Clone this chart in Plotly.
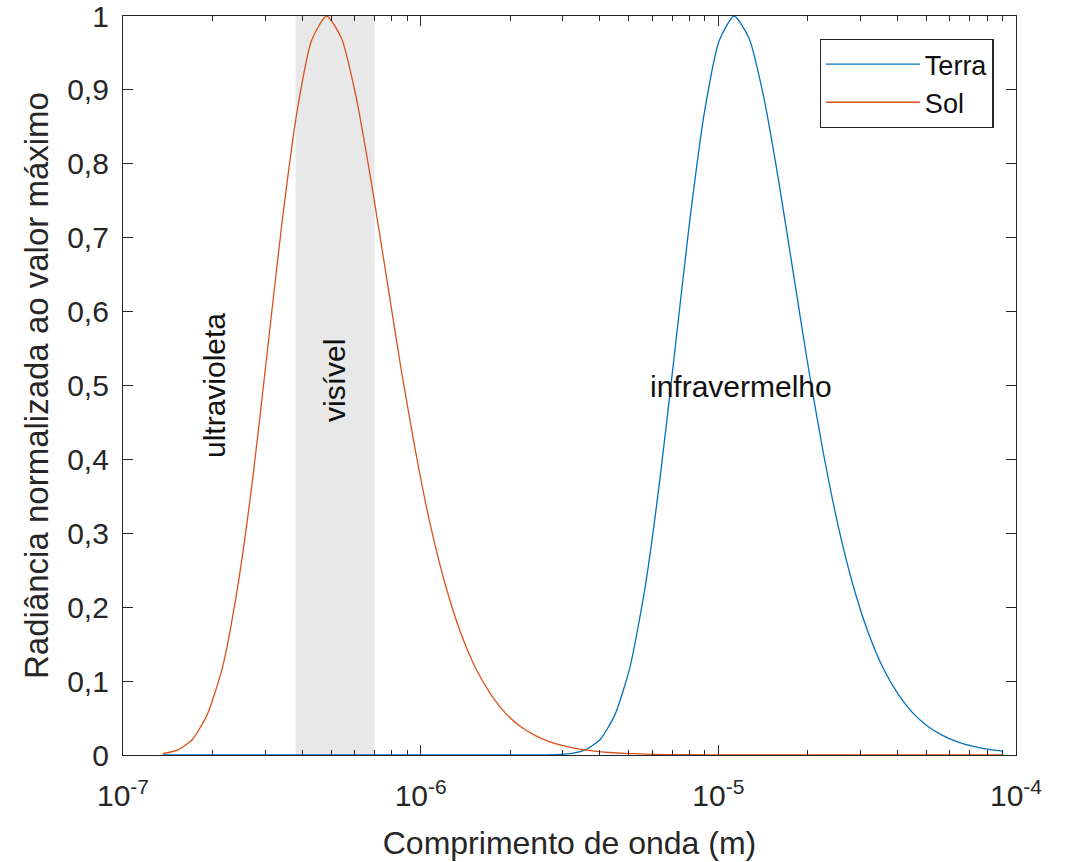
import math
import plotly.graph_objects as go

# ---------------- data ----------------
sol_wavelength = [1.36e-7, 1.53e-7, 1.71e-7, 1.92e-7, 2.16e-7, 2.42e-7, 2.72e-7, 3.05e-7,
                  3.42e-7, 3.84e-7, 4.30e-7, 4.83e-7, 5.42e-7, 6.08e-7, 6.82e-7, 7.66e-7,
                  8.59e-7, 9.64e-7, 1.081e-6, 1.213e-6, 1.361e-6, 1.527e-6, 1.714e-6,
                  1.923e-6, 2.157e-6, 2.421e-6, 2.716e-6, 3.05e-6, 3.419e-6, 3.84e-6,
                  4.305e-6, 4.83e-6, 6.08e-6, 7.66e-6, 1.21e-5, 3.0e-5, 8.98e-5]
sol_radiance = [0.0018, 0.0069, 0.021, 0.055, 0.119, 0.224, 0.370, 0.544,
                0.720, 0.870, 0.967, 1.0, 0.970, 0.889, 0.776, 0.649,
                0.523, 0.408, 0.309, 0.229, 0.166, 0.118, 0.083,
                0.057, 0.039, 0.0266, 0.0178, 0.0119, 0.0079, 0.0052,
                0.0034, 0.0022, 0.0009, 0.0004, 0.00007, 0.0, 0.0]

terra_wavelength = [1.36e-7, 1.0e-6, 2.0e-6, 2.84e-6, 3.18e-6, 3.57e-6, 4.01e-6, 4.50e-6,
                    5.05e-6, 5.66e-6, 6.35e-6, 7.13e-6, 8.00e-6, 8.98e-6, 1.007e-5, 1.13e-5,
                    1.268e-5, 1.423e-5, 1.596e-5, 1.791e-5, 2.009e-5, 2.255e-5, 2.530e-5,
                    2.838e-5, 3.185e-5, 3.573e-5, 4.009e-5, 4.499e-5, 5.048e-5, 5.663e-5,
                    6.354e-5, 7.13e-5, 8.0e-5, 8.98e-5]
terra_radiance = [0.0, 0.0, 0.0, 0.0004, 0.0018, 0.0069, 0.021, 0.055,
                  0.119, 0.224, 0.370, 0.544, 0.720, 0.870, 0.967, 1.0,
                  0.970, 0.889, 0.776, 0.649, 0.523, 0.408, 0.309,
                  0.229, 0.166, 0.118, 0.083, 0.057, 0.039, 0.0266,
                  0.0178, 0.0119, 0.0079, 0.0052]

visible_band = [3.8e-7, 7.0e-7]

x_tick_values = [1e-7, 1e-6, 1e-5, 1e-4]
x_tick_labels = ["10<sup>-7</sup>", "10<sup>-6</sup>", "10<sup>-5</sup>", "10<sup>-4</sup>"]
x_minor_values = [m * 10.0 ** e for e in (-7, -6, -5) for m in range(2, 10)]
y_tick_values = [0, 0.1, 0.2, 0.3, 0.4, 0.5, 0.6, 0.7, 0.8, 0.9, 1]
y_tick_labels = ["0", "0,1", "0,2", "0,3", "0,4", "0,5", "0,6", "0,7", "0,8", "0,9", "1"]

region_labels = ["ultravioleta", "visível", "infravermelho"]
region_x = [2.03e-7, 5.14e-7, 1.19e-5]
region_y = [0.50, 0.507, 0.498]
region_angle = [-90, -90, 0]

# ---------------- figure ----------------
FONT = "Liberation Sans, Arial, Helvetica, sans-serif"
AX = "#262626"

fig = go.Figure()

# visible band (grey area)
fig.add_trace(go.Scatter(
    x=[visible_band[0], visible_band[1], visible_band[1], visible_band[0], visible_band[0]],
    y=[0, 0, 1, 1, 0], mode="lines", fill="toself",
    fillcolor="#e8e8e8", line=dict(width=0), showlegend=False, hoverinfo="skip"))

fig.add_trace(go.Scatter(x=terra_wavelength, y=terra_radiance, mode="lines", name="Terra",
                         line=dict(color="#0072BD", width=1.3, shape="spline", smoothing=0.6)))
fig.add_trace(go.Scatter(x=sol_wavelength, y=sol_radiance, mode="lines", name="Sol",
                         line=dict(color="#D95319", width=1.3, shape="spline", smoothing=0.6)))

for txt, xv, yv, ang in zip(region_labels, region_x, region_y, region_angle):
    fig.add_annotation(x=math.log10(xv), y=yv, xref="x", yref="y", text=txt,
                       textangle=ang, showarrow=False,
                       font=dict(family=FONT, size=30, color="#111111"))

fig.update_layout(
    width=1066, height=862,
    margin=dict(l=123, r=50, t=16, b=107, autoexpand=False),
    paper_bgcolor="white", plot_bgcolor="white",
    font=dict(family=FONT, color=AX),
    legend=dict(x=0.975, y=0.969, xanchor="right", yanchor="top",
                bgcolor="white", bordercolor=AX, borderwidth=1.2,
                font=dict(family=FONT, size=27, color="#111111"),
                itemwidth=94, tracegroupgap=0),
)

fig.update_xaxes(
    type="log", range=[-7, -4], automargin=False,
    tickmode="array", tickvals=x_tick_values, ticktext=x_tick_labels,
    ticks="inside", ticklen=10, tickwidth=1, tickcolor=AX,
    minor=dict(tickmode="array", tickvals=x_minor_values, ticks="inside",
               ticklen=5, tickwidth=1, tickcolor=AX, showgrid=False),
    showline=True, linecolor=AX, linewidth=1.2, mirror="ticks",
    showgrid=False, zeroline=False, ticklabeloverflow="allow",
    tickfont=dict(family=FONT, size=30, color=AX),
    ticklabelstandoff=14,
    title=dict(text="Comprimento de onda (m)", font=dict(family=FONT, size=32, color=AX),
               standoff=20),
)
fig.update_yaxes(
    range=[0, 1], automargin=False,
    tickmode="array", tickvals=y_tick_values, ticktext=y_tick_labels,
    ticks="inside", ticklen=10, tickwidth=1, tickcolor=AX,
    showline=True, linecolor=AX, linewidth=1.2, mirror="ticks",
    showgrid=False, zeroline=False, ticklabeloverflow="allow",
    tickfont=dict(family=FONT, size=30, color=AX),
    ticklabelstandoff=7,
    title=dict(text="Radiância normalizada ao valor máximo",
               font=dict(family=FONT, size=33, color=AX), standoff=8),
)

fig.write_html("out.html", config={"displayModeBar": False},
               post_script="document.body.style.margin='0';")
